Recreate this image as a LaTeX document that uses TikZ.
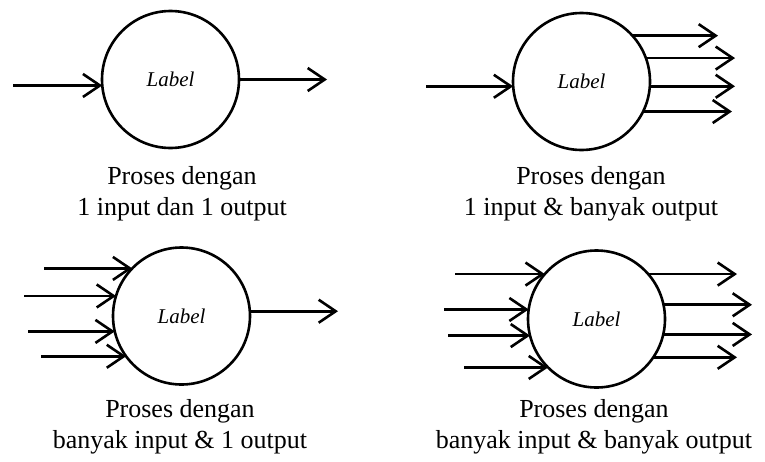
\documentclass[tikz,border=0pt]{standalone}
\usepackage{fontspec}
\setmainfont{Liberation Serif}
\usetikzlibrary{arrows.meta}
\begin{document}
\begin{tikzpicture}[x=1pt,y=-1pt,
  proc/.style={circle,draw,line width=2.6pt,minimum size=137pt,inner sep=0pt,outer sep=0pt,
    font=\fontsize{21}{24}\selectfont\itshape},
  flow/.style={line width=2.6pt,-{Straight Barb[length=17pt,width=23pt]}},
  caption/.style={align=center,inner sep=0pt,anchor=base,font=\fontsize{26}{30.5}\selectfont}]
\useasboundingbox (0,0) rectangle (765,461);

% processes
\node[proc] (p1) at (170.5,79.5) {Label};
\node[proc] (p2) at (581.5,81.5) {Label};
\node[proc] (p3) at (181.5,316) {Label};
\node[proc] (p4) at (596.5,319) {Label};

% captions (anchored on the baseline of the last line)
\node[caption] (c1) at (182,215) {Proses dengan\\1 input dan 1 output};
\node[caption] (c2) at (591,215) {Proses dengan\\1 input \& banyak output};
\node[caption] (c3) at (180,448) {Proses dengan\\banyak input \& 1 output};
\node[caption] (c4) at (594,448) {Proses dengan\\banyak input \& banyak output};

% 1 input, 1 output
\coordinate (i11) at (13,0 |- p1.185);
\coordinate (o11) at (327,0 |- p1.0);
\draw[flow] (i11) -- (p1.185);
\draw[flow] (p1.0) -- (o11);

% 1 input, many outputs
\coordinate (i21) at (426,0 |- p2.184);
\draw[flow] (i21) -- (p2.184);
\coordinate (o21) at (718,0 |- p2.42);
\coordinate (o22) at (735,0 |- p2.20);
\coordinate (o23) at (735,0 |- p2.356);
\coordinate (o24) at (732,0 |- p2.334);
\draw[flow] (p2.42) -- (o21);
\draw[flow] (p2.20) -- (o22);
\draw[flow] (p2.356) -- (o23);
\draw[flow] (p2.334) -- (o24);

% many inputs, 1 output
\coordinate (i31) at (44,0 |- p3.136);
\coordinate (i32) at (24,0 |- p3.163);
\coordinate (i33) at (28,0 |- p3.193);
\coordinate (i34) at (41,0 |- p3.216);
\draw[flow] (i31) -- (p3.136);
\draw[flow] (i32) -- (p3.163);
\draw[flow] (i33) -- (p3.193);
\draw[flow] (i34) -- (p3.216);
\coordinate (o31) at (338,0 |- p3.4);
\draw[flow] (p3.4) -- (o31);

% many inputs, many outputs
\coordinate (i41) at (455,0 |- p4.139);
\coordinate (i42) at (444,0 |- p4.172);
\coordinate (i43) at (448,0 |- p4.194);
\coordinate (i44) at (464,0 |- p4.225);
\draw[flow] (i41) -- (p4.139);
\draw[flow] (i42) -- (p4.172);
\draw[flow] (i43) -- (p4.194);
\draw[flow] (i44) -- (p4.225);
\coordinate (o41) at (737,0 |- p4.41);
\coordinate (o42) at (752,0 |- p4.12);
\coordinate (o43) at (752,0 |- p4.347);
\coordinate (o44) at (737,0 |- p4.326);
\draw[flow] (p4.41) -- (o41);
\draw[flow] (p4.12) -- (o42);
\draw[flow] (p4.347) -- (o43);
\draw[flow] (p4.326) -- (o44);
\end{tikzpicture}
\end{document}
